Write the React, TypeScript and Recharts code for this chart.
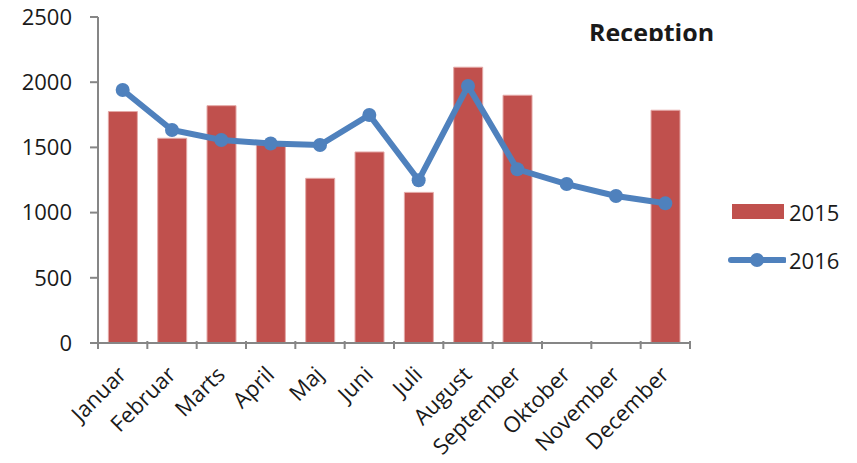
import {
    ComposedChart,
    Bar,
    Line,
    XAxis,
    YAxis,
    Legend,
} from 'recharts';

const months = [
    'Januar',
    'Februar',
    'Marts',
    'April',
    'Maj',
    'Juni',
    'Juli',
    'August',
    'September',
    'Oktober',
    'November',
    'December',
];
const values2015 = [1775, 1570, 1820, 1520, 1263, 1465, 1155, 2115, 1900, null, null, 1785];
const values2016 = [1940, 1633, 1557, 1530, 1518, 1748, 1248, 1971, 1332, 1219, 1127, 1071];
const yTicks = [0, 500, 1000, 1500, 2000, 2500];

const data = months.map((month, i) => ({
    month,
    y2015: values2015[i],
    y2016: values2016[i],
}));

const FONT = "'Open Sans', 'Liberation Sans', sans-serif";
const AXIS = '#868686';
const RED = '#c0504d';
const BLUE = '#4f81bd';
const LEGEND_W = 129;

const MonthTick = (props: any) => {
    const { x, y, payload, index, visibleTicksCount } = props;
    const half = payload.offset || 0;
    const axisY = y - 10;
    return (
        <g>
            <line x1={x - half} y1={axisY} x2={x - half} y2={axisY + 8} stroke={AXIS} strokeWidth={2} />
            {index === visibleTicksCount - 1 && (
                <line x1={x + half} y1={axisY} x2={x + half} y2={axisY + 8} stroke={AXIS} strokeWidth={2} />
            )}
            <g transform={`translate(${x + 5},${y + 25})`}>
                <text textAnchor="end" transform="rotate(-45)" fontSize={22} fill="#1a1a1a" fontFamily={FONT}>
                    {payload.value}
                </text>
            </g>
        </g>
    );
};

const LegendContent = () => (
    <div style={{ fontFamily: FONT, fontSize: 22, color: '#1a1a1a', width: LEGEND_W }}>
        <div style={{ display: 'flex', alignItems: 'center', height: 30 }}>
            <svg width={58} height={20}>
                <rect x={4} y={2} width={52} height={15} fill={RED} />
            </svg>
            <span style={{ marginLeft: 3 }}>2015</span>
        </div>
        <div style={{ display: 'flex', alignItems: 'center', height: 30, marginTop: 18 }}>
            <svg width={58} height={20}>
                <line x1={3} y1={10} x2={56} y2={10} stroke={BLUE} strokeWidth={6} strokeLinecap="round" />
                <circle cx={29} cy={10} r={7} fill={BLUE} />
            </svg>
            <span style={{ marginLeft: 3 }}>2016</span>
        </div>
    </div>
);

export default function App() {
    return (
        <div style={{ position: 'absolute', left: 0, top: 0, width: 857, height: 463, background: '#fff' }}>
            <ComposedChart
                width={857}
                height={463}
                data={data}
                margin={{ top: 17, right: 167 - LEGEND_W, left: 0, bottom: 0 }}
                barCategoryGap="21%"
            >
                <XAxis
                    dataKey="month"
                    interval={0}
                    height={120}
                    axisLine={{ stroke: AXIS, strokeWidth: 2 }}
                    tickLine={false}
                    tick={<MonthTick />}
                />
                <YAxis
                    domain={[0, 2500]}
                    ticks={yTicks}
                    width={98}
                    axisLine={{ stroke: AXIS, strokeWidth: 2 }}
                    tickLine={{ stroke: AXIS, strokeWidth: 2 }}
                    tickSize={8}
                    tickMargin={18}
                    tick={{ fontSize: 22, fill: '#1a1a1a', fontFamily: FONT }}
                />
                <Legend
                    layout="vertical"
                    align="right"
                    verticalAlign="middle"
                    content={<LegendContent />}
                    wrapperStyle={{ position: 'absolute', left: 728, top: 197, width: LEGEND_W }}
                />
                <Bar
                    dataKey="y2015"
                    name="2015"
                    fill={RED}
                    stroke="#e4a9a7"
                    strokeWidth={1}
                    isAnimationActive={false}
                />
                <Line
                    dataKey="y2016"
                    name="2016"
                    type="linear"
                    stroke={BLUE}
                    strokeWidth={6}
                    dot={{ r: 7, fill: BLUE, stroke: BLUE, strokeWidth: 0 }}
                    activeDot={false}
                    isAnimationActive={false}
                />
            </ComposedChart>
            <svg
                width={150}
                height={41}
                style={{ position: 'absolute', left: 589, top: 0 }}
            >
                <text x={0} y={42} fontSize={25} fontWeight={700} fill="#1a1a1a" fontFamily={FONT}>
                    Reception
                </text>
            </svg>
        </div>
    );
}
